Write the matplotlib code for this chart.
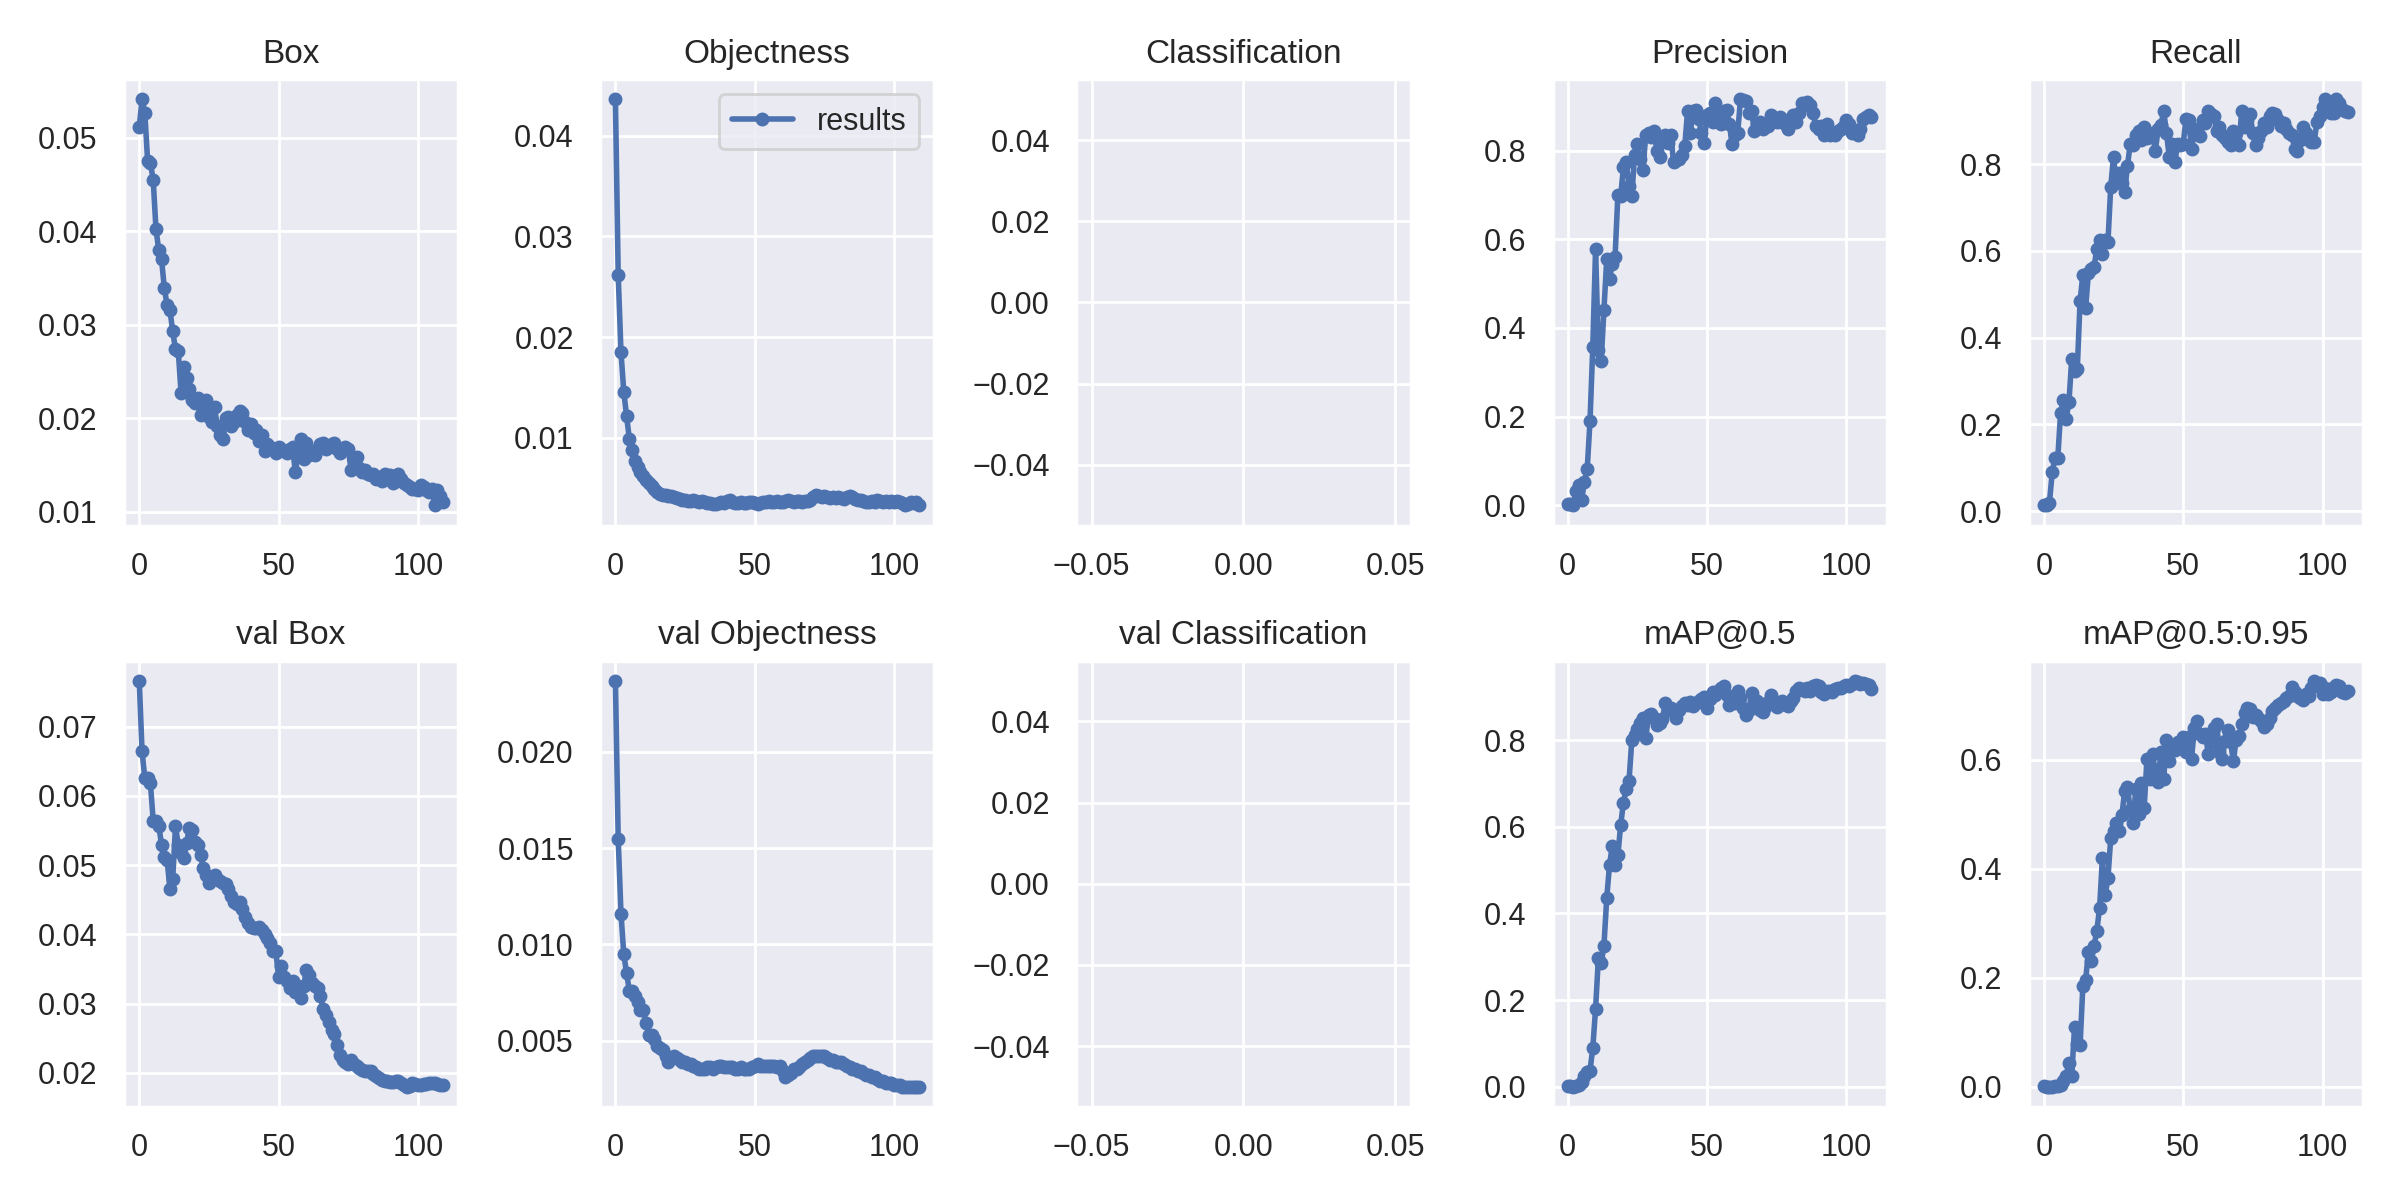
import numpy as np
import matplotlib
matplotlib.use('Agg')
import matplotlib.pyplot as plt
import seaborn as sns

titles = ['Box', 'Objectness', 'Classification', 'Precision', 'Recall',
          'val Box', 'val Objectness', 'val Classification', 'mAP@0.5', 'mAP@0.5:0.95']

box = [0.0512, 0.0541, 0.0527, 0.0475, 0.0473, 0.0455, 0.0402, 0.0380, 0.0370, 0.0339,
       0.0321, 0.0316, 0.0293, 0.0274, 0.0272, 0.0227, 0.0255, 0.0243, 0.0231, 0.0220,
       0.0216, 0.0222, 0.0204, 0.0208, 0.0220, 0.0202, 0.0196, 0.0212, 0.0192, 0.0182,
       0.0178, 0.0200, 0.0202, 0.0192, 0.0196, 0.0204, 0.0208, 0.0206, 0.0196, 0.0188,
       0.0194, 0.0184, 0.0188, 0.0176, 0.0182, 0.0165, 0.0173, 0.0169, 0.0167, 0.0163,
       0.0169, 0.0167, 0.0165, 0.0163, 0.0167, 0.0169, 0.0143, 0.0161, 0.0178, 0.0157,
       0.0174, 0.0161, 0.0163, 0.0161, 0.0167, 0.0173, 0.0174, 0.0167, 0.0169, 0.0173,
       0.0174, 0.0167, 0.0163, 0.0167, 0.0169, 0.0167, 0.0145, 0.0157, 0.0159, 0.0147,
       0.0143, 0.0145, 0.0141, 0.0139, 0.0141, 0.0135, 0.0137, 0.0133, 0.0141, 0.0135,
       0.0139, 0.0131, 0.0133, 0.0141, 0.0135, 0.0131, 0.0129, 0.0127, 0.0125, 0.0125,
       0.0123, 0.0129, 0.0127, 0.0123, 0.0121, 0.0125, 0.0107, 0.0123, 0.0117, 0.0111]

obj = [0.0436, 0.0262, 0.0185, 0.0146, 0.0122, 0.0099, 0.0088, 0.0077, 0.0071, 0.0066,
       0.0062, 0.0058, 0.0055, 0.0052, 0.0049, 0.0046, 0.0044, 0.0043, 0.0043, 0.0042,
       0.0042, 0.0041, 0.0040, 0.0039, 0.0038, 0.0038, 0.0037, 0.0037, 0.0038, 0.0037,
       0.0036, 0.0037, 0.0036, 0.0035, 0.0035, 0.0034, 0.0034, 0.0035, 0.0036, 0.0035,
       0.0037, 0.0038, 0.0036, 0.0035, 0.0035, 0.0036, 0.0035, 0.0035, 0.0036, 0.0036,
       0.0035, 0.0034, 0.0035, 0.0036, 0.0036, 0.0037, 0.0036, 0.0036, 0.0037, 0.0036,
       0.0036, 0.0037, 0.0038, 0.0037, 0.0036, 0.0037, 0.0037, 0.0036, 0.0037, 0.0037,
       0.0038, 0.0041, 0.0043, 0.0042, 0.0041, 0.0042, 0.0041, 0.0040, 0.0041, 0.0040,
       0.0041, 0.0040, 0.0039, 0.0041, 0.0042, 0.0041, 0.0039, 0.0038, 0.0038, 0.0037,
       0.0036, 0.0036, 0.0037, 0.0036, 0.0038, 0.0037, 0.0036, 0.0037, 0.0036, 0.0037,
       0.0036, 0.0037, 0.0036, 0.0035, 0.0033, 0.0034, 0.0036, 0.0035, 0.0036, 0.0033]

# classification loss is zero for a single class run -> not plotted
cls = [0.0] * 110

precision = [0.004, 0.002, 0.000, 0.033, 0.045, 0.012, 0.053, 0.082, 0.190, 0.357,
             0.578, 0.350, 0.325, 0.440, 0.555, 0.510, 0.545, 0.560, 0.700, 0.697,
             0.762, 0.775, 0.720, 0.697, 0.790, 0.815, 0.780, 0.755, 0.835, 0.840,
             0.830, 0.843, 0.800, 0.785, 0.830, 0.835, 0.818, 0.835, 0.773, 0.778,
             0.780, 0.790, 0.810, 0.888, 0.840, 0.888, 0.892, 0.870, 0.840, 0.818,
             0.880, 0.885, 0.865, 0.906, 0.875, 0.860, 0.888, 0.892, 0.860, 0.815,
             0.835, 0.840, 0.915, 0.913, 0.912, 0.885, 0.888, 0.843, 0.860, 0.865,
             0.848, 0.860, 0.855, 0.880, 0.870, 0.865, 0.875, 0.870, 0.860, 0.848,
             0.868, 0.880, 0.865, 0.885, 0.906, 0.902, 0.910, 0.902, 0.885, 0.855,
             0.848, 0.855, 0.835, 0.860, 0.835, 0.840, 0.835, 0.843, 0.848, 0.855,
             0.868, 0.860, 0.840, 0.843, 0.835, 0.848, 0.870, 0.875, 0.880, 0.875]

recall = [0.013, 0.015, 0.019, 0.089, 0.123, 0.123, 0.225, 0.255, 0.213, 0.251,
          0.350, 0.323, 0.328, 0.485, 0.545, 0.468, 0.550, 0.557, 0.562, 0.605,
          0.625, 0.592, 0.625, 0.620, 0.748, 0.817, 0.757, 0.779, 0.757, 0.736,
          0.796, 0.847, 0.843, 0.868, 0.877, 0.855, 0.885, 0.860, 0.868, 0.872,
          0.830, 0.881, 0.890, 0.923, 0.872, 0.817, 0.847, 0.804, 0.847, 0.843,
          0.847, 0.904, 0.902, 0.834, 0.872, 0.881, 0.864, 0.902, 0.894, 0.923,
          0.915, 0.911, 0.877, 0.885, 0.868, 0.860, 0.851, 0.843, 0.877, 0.872,
          0.843, 0.923, 0.885, 0.902, 0.915, 0.872, 0.843, 0.860, 0.877, 0.894,
          0.885, 0.911, 0.919, 0.915, 0.902, 0.889, 0.894, 0.881, 0.872, 0.868,
          0.834, 0.830, 0.855, 0.885, 0.872, 0.855, 0.851, 0.851, 0.898, 0.911,
          0.932, 0.949, 0.936, 0.919, 0.919, 0.949, 0.940, 0.928, 0.923, 0.921]

val_box = [0.0766, 0.0664, 0.0625, 0.0625, 0.0618, 0.0564, 0.0563, 0.0557, 0.0529, 0.0511,
           0.0507, 0.0466, 0.0480, 0.0556, 0.0529, 0.0518, 0.0510, 0.0532, 0.0554, 0.0551,
           0.0534, 0.0529, 0.0515, 0.0496, 0.0485, 0.0474, 0.0482, 0.0485, 0.0480, 0.0477,
           0.0474, 0.0472, 0.0466, 0.0455, 0.0447, 0.0444, 0.0447, 0.0436, 0.0425, 0.0417,
           0.0411, 0.0409, 0.0409, 0.0411, 0.0406, 0.0400, 0.0395, 0.0387, 0.0376, 0.0376,
           0.0338, 0.0354, 0.0338, 0.0333, 0.0322, 0.0333, 0.0317, 0.0325, 0.0308, 0.0325,
           0.0349, 0.0341, 0.0330, 0.0325, 0.0322, 0.0311, 0.0292, 0.0284, 0.0273, 0.0262,
           0.0256, 0.0240, 0.0226, 0.0218, 0.0215, 0.0213, 0.0218, 0.0213, 0.0210, 0.0207,
           0.0204, 0.0202, 0.0202, 0.0203, 0.0199, 0.0196, 0.0192, 0.0190, 0.0188, 0.0188,
           0.0187, 0.0187, 0.0188, 0.0188, 0.0186, 0.0182, 0.0180, 0.0181, 0.0186, 0.0184,
           0.0183, 0.0182, 0.0184, 0.0184, 0.0186, 0.0186, 0.0185, 0.0184, 0.0182, 0.0182]

val_obj = [0.0237, 0.0155, 0.0116, 0.0095, 0.0085, 0.0076, 0.0076, 0.0073, 0.0070, 0.0066,
           0.0066, 0.0059, 0.0053, 0.0053, 0.0051, 0.0047, 0.0046, 0.0045, 0.0042, 0.0039,
           0.0041, 0.0042, 0.0041, 0.0040, 0.0039, 0.0039, 0.0038, 0.0038, 0.0037, 0.0036,
           0.0035, 0.0035, 0.0035, 0.0036, 0.0036, 0.0035, 0.0036, 0.0037, 0.0037, 0.0036,
           0.0036, 0.0036, 0.0036, 0.0035, 0.0035, 0.0036, 0.0035, 0.0035, 0.0035, 0.0036,
           0.0037, 0.0038, 0.0037, 0.0037, 0.0037, 0.0037, 0.0037, 0.0037, 0.0036, 0.0037,
           0.0034, 0.0031, 0.0032, 0.0033, 0.0035, 0.0035, 0.0036, 0.0038, 0.0039, 0.0040,
           0.0041, 0.0042, 0.0042, 0.0042, 0.0042, 0.0042, 0.0041, 0.0040, 0.0040, 0.0039,
           0.0039, 0.0039, 0.0038, 0.0037, 0.0036, 0.0035, 0.0035, 0.0034, 0.0034, 0.0033,
           0.0032, 0.0032, 0.0031, 0.0031, 0.0030, 0.0029, 0.0029, 0.0028, 0.0028, 0.0028,
           0.0027, 0.0027, 0.0027, 0.0026, 0.0026, 0.0026, 0.0026, 0.0026, 0.0026, 0.0026]

val_cls = [0.0] * 110

map50 = [0.002, 0.001, 0.000, 0.002, 0.004, 0.010, 0.024, 0.034, 0.037, 0.089,
         0.180, 0.296, 0.285, 0.325, 0.435, 0.512, 0.556, 0.512, 0.534, 0.604,
         0.656, 0.687, 0.705, 0.800, 0.813, 0.826, 0.839, 0.852, 0.804, 0.857,
         0.861, 0.852, 0.835, 0.839, 0.848, 0.885, 0.869, 0.874, 0.865, 0.852,
         0.869, 0.880, 0.885, 0.882, 0.887, 0.880, 0.885, 0.891, 0.895, 0.900,
         0.874, 0.895, 0.911, 0.904, 0.914, 0.920, 0.924, 0.904, 0.882, 0.891,
         0.885, 0.913, 0.897, 0.874, 0.857, 0.869, 0.908, 0.882, 0.891, 0.869,
         0.865, 0.878, 0.887, 0.904, 0.889, 0.876, 0.882, 0.891, 0.885, 0.880,
         0.891, 0.897, 0.913, 0.920, 0.917, 0.914, 0.920, 0.913, 0.924, 0.927,
         0.924, 0.911, 0.906, 0.913, 0.914, 0.911, 0.917, 0.920, 0.921, 0.924,
         0.927, 0.924, 0.930, 0.937, 0.935, 0.930, 0.932, 0.929, 0.927, 0.917]

map5095 = [0.001, 0.000, 0.000, 0.000, 0.001, 0.001, 0.003, 0.010, 0.020, 0.043,
           0.019, 0.109, 0.078, 0.076, 0.185, 0.196, 0.248, 0.231, 0.258, 0.286,
           0.328, 0.419, 0.352, 0.383, 0.456, 0.470, 0.484, 0.470, 0.498, 0.543,
           0.550, 0.508, 0.484, 0.547, 0.501, 0.557, 0.512, 0.602, 0.564, 0.611,
           0.578, 0.560, 0.615, 0.564, 0.637, 0.597, 0.622, 0.618, 0.633, 0.622,
           0.641, 0.615, 0.641, 0.602, 0.658, 0.672, 0.647, 0.641, 0.647, 0.611,
           0.633, 0.658, 0.665, 0.615, 0.602, 0.634, 0.654, 0.633, 0.597, 0.637,
           0.644, 0.665, 0.686, 0.696, 0.693, 0.679, 0.682, 0.676, 0.672, 0.661,
           0.665, 0.676, 0.689, 0.696, 0.701, 0.705, 0.708, 0.714, 0.717, 0.734,
           0.724, 0.717, 0.714, 0.710, 0.720, 0.717, 0.731, 0.745, 0.738, 0.741,
           0.720, 0.731, 0.720, 0.724, 0.734, 0.738, 0.736, 0.724, 0.722, 0.726]

epochs = np.arange(len(box))

sns.set_theme()  # darkgrid, notebook context
plt.rcParams['font.family'] = ['Liberation Sans', 'DejaVu Sans']

fig, ax = plt.subplots(2, 5, figsize=(12, 6))
fig.subplots_adjust(left=0.0517, right=0.9845, top=0.934, bottom=0.0775,
                    wspace=0.425, hspace=0.302)
ax = ax.ravel()
series = [box, obj, cls, precision, recall, val_box, val_obj, val_cls, map50, map5095]
for i, (vals, title) in enumerate(zip(series, titles)):
    y = np.array(vals, dtype=float)
    if i in (2, 7):
        y[y == 0] = np.nan  # zero cls loss is hidden
    ax[i].plot(epochs, y, marker='.', label='results', linewidth=2, markersize=8)
    ax[i].set_title(title)
ax[1].legend()

fig.savefig('out.png', dpi=200)
